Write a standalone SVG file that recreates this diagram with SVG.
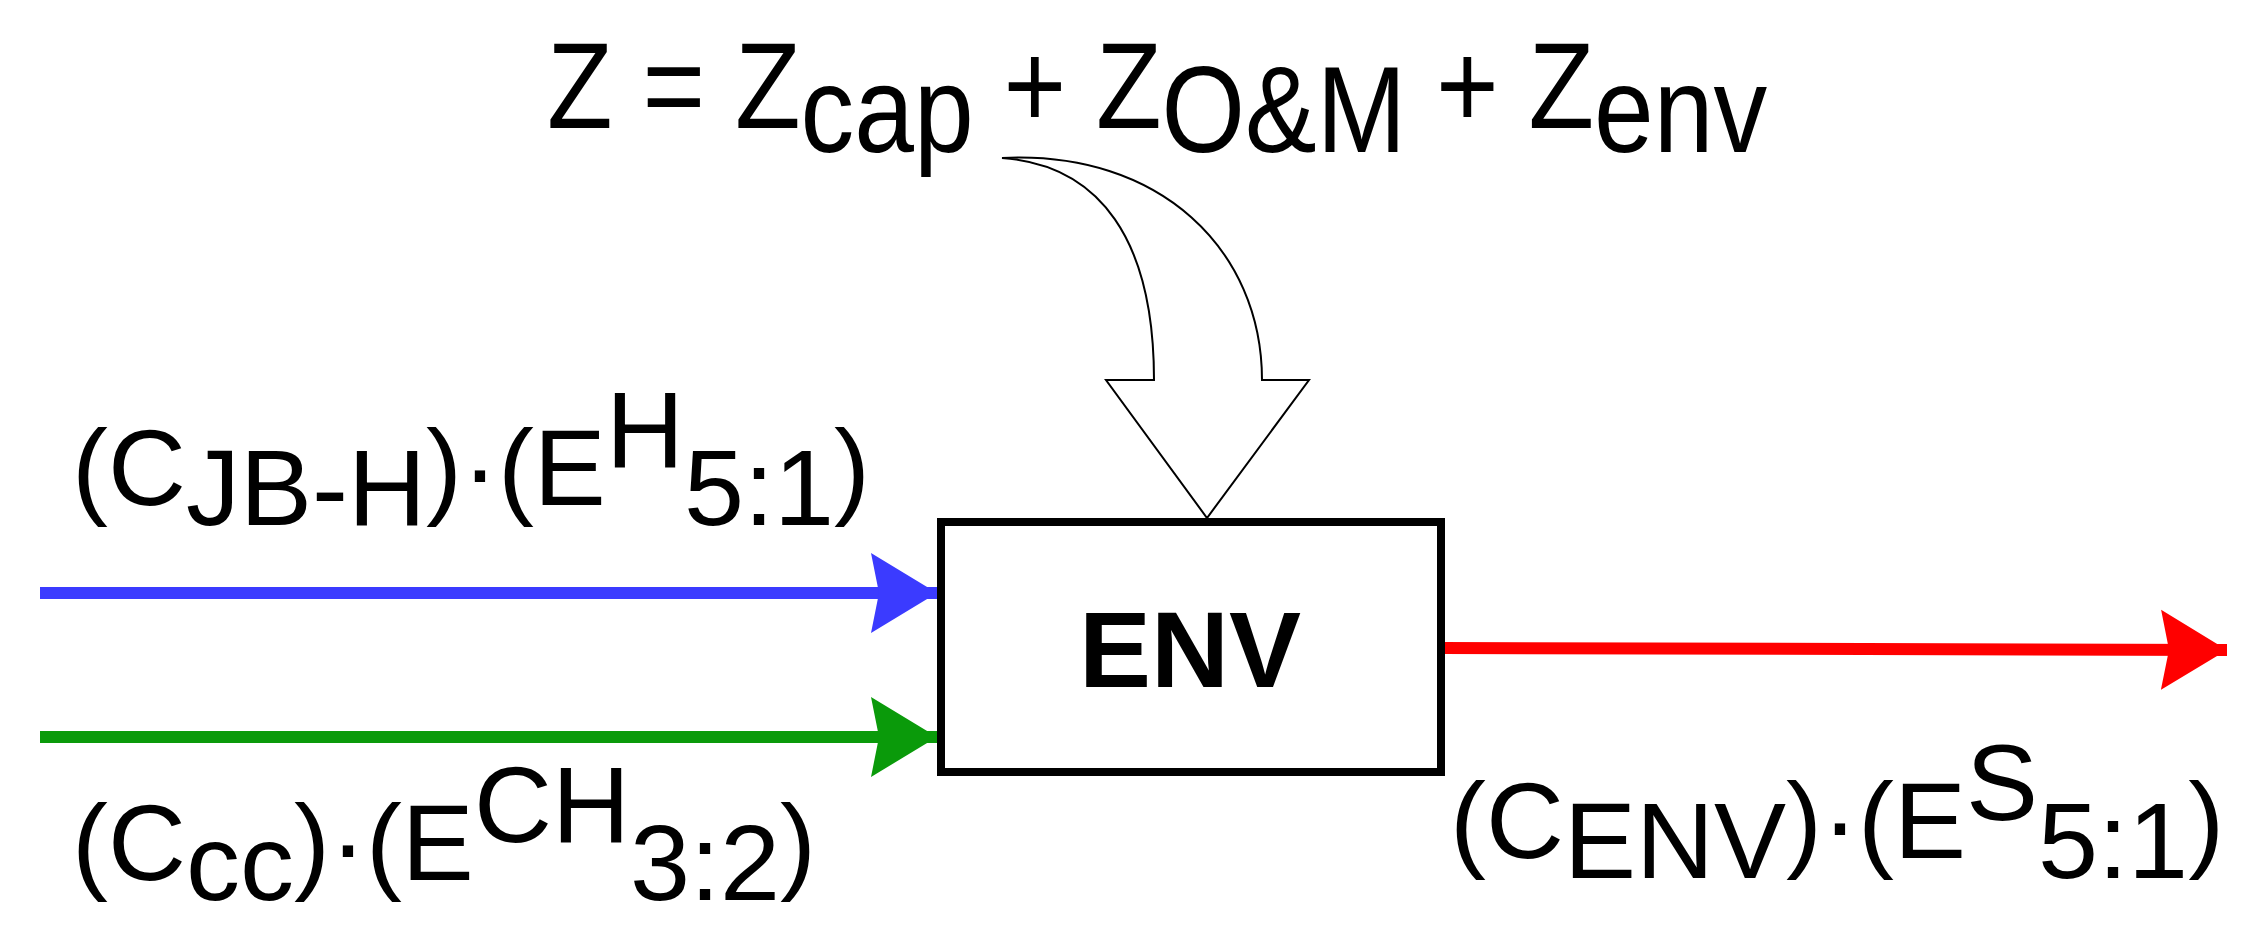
<svg xmlns="http://www.w3.org/2000/svg" width="2267" height="946" viewBox="0 0 2267 946">
<style>
text{font-family:"Liberation Sans",Arial,sans-serif;fill:#000}
.lbl{font-size:108px}
.ttl{font-size:122px}
</style>
<defs>
<marker id="mb" markerUnits="userSpaceOnUse" markerWidth="70" markerHeight="84" refX="66" refY="42" orient="auto"><path d="M0,2 L66,42 L0,82 L8,42 Z" fill="#3b3bff"/></marker>
<marker id="mg" markerUnits="userSpaceOnUse" markerWidth="70" markerHeight="84" refX="66" refY="42" orient="auto"><path d="M0,2 L66,42 L0,82 L8,42 Z" fill="#0a9a0a"/></marker>
<marker id="mr" markerUnits="userSpaceOnUse" markerWidth="70" markerHeight="84" refX="66" refY="42" orient="auto"><path d="M0,2 L66,42 L0,82 L8,42 Z" fill="#ff0000"/></marker>
</defs>
<g id="connectors" fill="none" stroke-width="12">
<line x1="40" y1="593" x2="937" y2="593" stroke="#3b3bff" marker-end="url(#mb)"/>
<line x1="40" y1="737" x2="937" y2="737" stroke="#0a9a0a" marker-end="url(#mg)"/>
<line x1="1443" y1="648" x2="2227" y2="650" stroke="#ff0000" marker-end="url(#mr)"/>
<path d="M1002,158 C1160,150 1262,250 1262,380 L1309,380 L1207,518 L1106,380 L1154,380 C1154,240 1100,165 1002,158 Z" fill="#fff" stroke="#000" stroke-width="2"/>
</g>
<g id="env">
<rect x="941" y="522" width="500" height="250" fill="#fff" stroke="#000" stroke-width="8"/>
<text x="1190" y="687" font-size="108" font-weight="bold" text-anchor="middle">ENV</text>
</g>
<g id="title"><text class="ttl" transform="translate(547,128) scale(0.88,1)">Z = Z<tspan dy="24">cap</tspan><tspan dy="-24"> + Z</tspan><tspan dy="24">O&amp;M</tspan><tspan dy="-24"> + Z</tspan><tspan dy="24">env</tspan></text></g>
<g id="label-blue"><text class="lbl" x="72" y="505">(C<tspan dy="20">JB-H</tspan><tspan dy="-20">)·(E</tspan><tspan dy="-38">H</tspan><tspan dy="58">5:1</tspan><tspan dy="-20">)</tspan></text></g>
<g id="label-green"><text class="lbl" x="72" y="880">(C<tspan dy="20">cc</tspan><tspan dy="-20">)·(E</tspan><tspan dy="-38">CH</tspan><tspan dy="58">3:2</tspan><tspan dy="-20">)</tspan></text></g>
<g id="label-red"><text class="lbl" x="1450" y="858">(C<tspan dy="20">ENV</tspan><tspan dy="-20">)·(E</tspan><tspan dy="-38">S</tspan><tspan dy="58">5:1</tspan><tspan dy="-20">)</tspan></text></g>
</svg>
